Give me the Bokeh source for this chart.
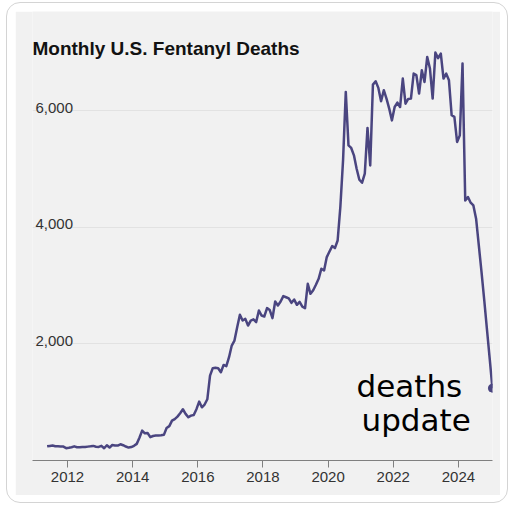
from bokeh.plotting import figure
from bokeh.models import ColumnDataSource, FixedTicker, Label, Range1d, Spacer
from bokeh.layouts import column, row
from bokeh.embed import file_html
from bokeh.resources import INLINE
from bokeh.core.properties import value

# ---------------- data ----------------
title_text = "Monthly U.S. Fentanyl Deaths"
note_lines = ["deaths", "update"]
start_year = 2011
start_month = 5  # first month of the series (May 2011)
monthly_deaths = [
    243, 250, 258, 245, 243, 240, 238, 212, 218, 228,
    243, 228, 226, 232, 230, 238, 243, 250, 235, 232,
    252, 210, 262, 222, 266, 258, 256, 278, 262, 240,
    222, 230, 252, 285, 390, 512, 466, 472, 400, 420,
    428, 430, 432, 440, 558, 590, 683, 710, 752, 810,
    879, 800, 741, 770, 781, 880, 1010, 913, 960, 1050,
    1456, 1583, 1590, 1583, 1514, 1639, 1617, 1772, 1971, 2057,
    2287, 2498, 2400, 2429, 2314, 2400, 2420, 2374, 2572, 2486,
    2470, 2613, 2580, 2441, 2726, 2658, 2726, 2819, 2800, 2780,
    2704, 2760, 2670, 2720, 2640, 2613, 3030, 2858, 2920, 3013,
    3116, 3288, 3259, 3488, 3585, 3677, 3643, 3773, 4350, 5150,
    6321, 5404, 5360, 5233, 5004, 4815, 4764, 4918, 5703, 5061,
    6446, 6503, 6390, 6160, 6350, 6206, 6034, 5833, 6062, 6137,
    6062, 6549, 6120, 6200, 6206, 6635, 6610, 6292, 6692, 6492,
    6921, 6721, 6206, 6996, 6900, 6979, 6549, 6635, 6520, 5920,
    5892, 5463, 5576, 6807, 4460, 4518, 4421, 4375, 4146, 3688,
    3230, 2750, 2250, 1750, 1240,
]
x_tick_years = [2012, 2014, 2016, 2018, 2020, 2022, 2024]
y_tick_values = [2000, 4000, 6000]
y_tick_labels = ["2,000", "4,000", "6,000"]

# month mid-points as decimal years
month_x = [start_year + (start_month - 1 + i + 0.5) / 12.0 for i in range(len(monthly_deaths))]

# ---------------- style ----------------
LINE = "#4a4580"
PANEL = "#f1f1f1"
FONT = "Liberation Sans"

X0, X1 = 2010.926, 2025.045
Y0, Y1 = 0, 7700

p = figure(frame_width=460, frame_height=449, output_backend="svg", toolbar_location=None,
           x_range=Range1d(X0, X1), y_range=Range1d(Y0, Y1),
           min_border_left=17, min_border_right=8, min_border_top=0, min_border_bottom=35)
p.background_fill_color = PANEL
p.border_fill_color = PANEL
p.outline_line_color = None

# axes
p.yaxis.visible = False
xa = p.xaxis[0]
xa.ticker = FixedTicker(ticks=x_tick_years)
xa.minor_tick_line_color = None
xa.axis_line_color = "#808080"
xa.axis_line_width = 1
xa.major_tick_line_color = "#808080"
xa.major_tick_out = 7
xa.major_tick_in = 0
xa.major_label_standoff = 4
xa.major_label_text_font = FONT
xa.major_label_text_font_size = "15px"
xa.major_label_text_color = "#333333"

p.xgrid.visible = False
p.ygrid.ticker = FixedTicker(ticks=y_tick_values)
p.ygrid.grid_line_color = "#e2e2e2"
p.ygrid.grid_line_width = 1

# y tick labels inside plot, above the gridlines
ysrc = ColumnDataSource(dict(x=[X0] * len(y_tick_values), y=y_tick_values, t=y_tick_labels))
p.text(x="x", y="y", text="t", source=ysrc, x_offset=3, y_offset=-3,
       text_font=value(FONT), text_font_size="15px", text_color="#333333",
       text_align="left", text_baseline="alphabetic")

# data line
src = ColumnDataSource(dict(x=month_x, y=monthly_deaths))
p.line(x="x", y="y", source=src, line_color=LINE, line_width=2.5, line_join="round")
p.scatter(x=[month_x[-1]], y=[monthly_deaths[-1]], size=8, color=LINE)

# title
p.add_layout(Label(x=0, y=412, x_units="screen", y_units="screen", text=title_text,
                   text_font=FONT, text_font_size="19px", text_font_style="bold",
                   text_color="#121212", text_baseline="alphabetic"))

# annotation text
p.add_layout(Label(x=324, y=75, x_units="screen", y_units="screen", text=note_lines[0],
                   text_font="DejaVu Sans", text_font_size="31px",
                   text_color="#000000", text_baseline="alphabetic"))
p.add_layout(Label(x=329, y=41, x_units="screen", y_units="screen", text=note_lines[1],
                   text_font="DejaVu Sans", text_font_size="31px",
                   text_color="#000000", text_baseline="alphabetic"))

inner = row(Spacer(width=8, height=484), p, Spacer(width=7, height=484))
layout = column(Spacer(width=500, height=8), inner, Spacer(width=500, height=7),
                styles={"border": "1px solid #d4d4d4", "border-radius": "14px",
                        "background": "#ffffff", "position": "relative",
                        "left": "6px", "top": "2px"})

open("out.html", "w").write(file_html(layout, INLINE))
